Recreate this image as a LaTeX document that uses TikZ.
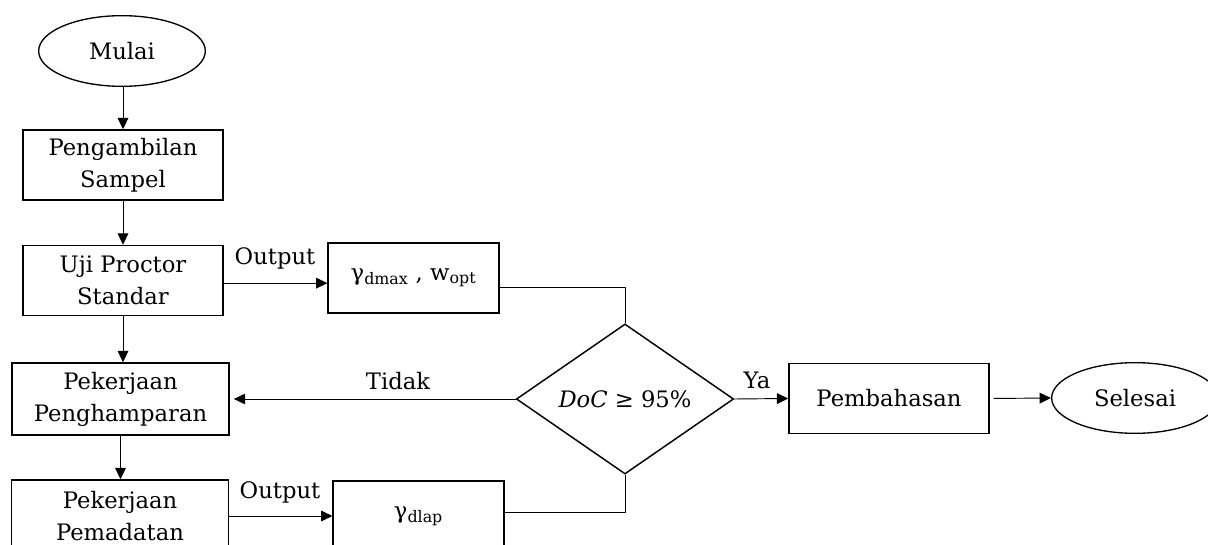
\documentclass[tikz,border=0pt]{standalone}
\usepackage{fontspec}
\setmainfont{DejaVu Serif}
\usetikzlibrary{shapes.geometric,arrows.meta}

\begin{document}
\begin{tikzpicture}[x=0.75pt, y=-0.75pt, font=\fontsize{17}{24}\selectfont,
  terminal/.style={draw, ellipse, line width=1pt, inner sep=0pt, minimum width=125pt, minimum height=53pt},
  process/.style={draw, rectangle, line width=1.1pt, align=center, inner sep=0pt, minimum width=150pt, minimum height=52.5pt},
  wideprocess/.style={process, minimum width=163pt, minimum height=54pt},
  result/.style={process, minimum width=128pt},
  decision/.style={draw, diamond, line width=1.1pt, inner sep=0pt, minimum width=163pt, minimum height=110pt},
  flow/.style={-{Triangle[length=8.5pt,width=8pt]}, line width=0.7pt},
  link/.style={line width=0.7pt}]

\useasboundingbox (0,0) rectangle (1208,545);

\node[terminal] (mulai) at (122, 51) {Mulai};
\node[process] (sampel) at (123, 165) {Pengambilan\\Sampel};
\node[process] (proctor) at (123, 280.5) {Uji Proctor\\Standar};
\node[result] (gdmax) at (413.5, 278) {γ\textsubscript{dmax} , w\textsubscript{opt}};
\node[wideprocess] (hampar) at (120.5, 399) {Pekerjaan\\Penghamparan};
\node[wideprocess] (padat) at (120, 516) {Pekerjaan\\Pemadatan};
\node[result] (gdlap) at (418.5, 516) {γ\textsubscript{dlap}};
\node[decision] (doc) at (625, 399) {\textit{DoC} ≥ 95\%};
\node[process] (bahas) at (889, 398.5) {Pembahasan};
\node[terminal] (selesai) at (1135, 398) {Selesai};

\node (out1) at (275, 258) {Output};
\node (out2) at (280, 492) {Output};
\node (tidak) at (398, 381) {Tidak};
\node (ya) at (757, 380) {Ya};

\draw [flow] (mulai.south -| sampel.north) -- (sampel);
\draw [flow] (sampel) -- (proctor);
\draw [flow] (proctor) -- (hampar.north -| proctor.south);
\draw [flow] (hampar) -- (padat.north -| hampar.south);
\draw [flow] ([yshift=-2pt]proctor.east) -- ([yshift=-2pt]proctor.east -| gdmax.west);
\draw [flow] (padat.east) -- (padat.east -| gdlap.west);
\draw [link] ([yshift=-7pt]gdmax.east) -| (doc.north);
\draw [link] ([yshift=3pt]gdlap.east) -| (doc.south);
\draw [flow] (doc.west) -- ([xshift=3pt]hampar.east);
\draw [flow] (doc.east) -- (bahas.west);
\draw [flow, shorten <=3pt] (bahas.east) -- (selesai.west);

\end{tikzpicture}
\end{document}
